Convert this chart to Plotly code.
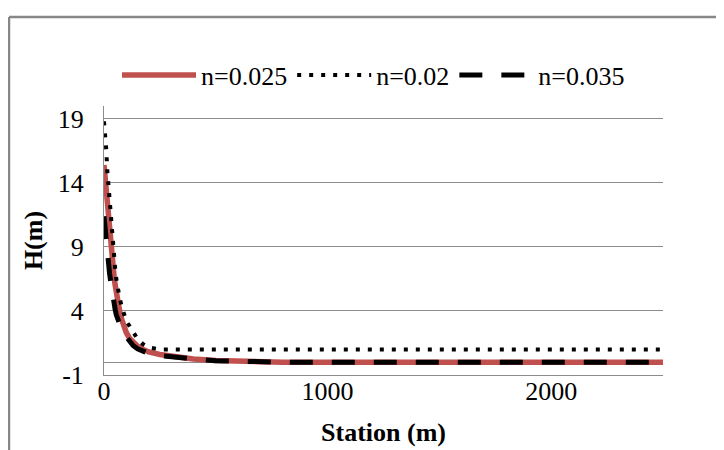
import plotly.graph_objects as go

# ---- data ----
stations = [0, 5, 10, 15, 20, 25, 30, 35, 40, 45, 50, 55, 60, 70, 80, 90, 100,
            115, 130, 150, 175, 200, 250, 300, 400, 500, 600, 700, 800, 1000,
            1500, 2000, 2500]

h_n0025 = [15.4, 14.3, 13.2, 12.1, 11.1, 10.1, 9.0, 8.2, 7.5, 6.7, 6.0, 5.3, 4.8,
           4.0, 3.3, 2.7, 2.3, 1.85, 1.55, 1.25, 1.0, 0.8, 0.6, 0.45, 0.25, 0.13,
           0.06, 0.02, 0.0, 0.0, 0.0, 0.0, 0.0]

h_n002 = [18.8, 17.9, 16.6, 14.9, 13.7, 12.5, 11.2, 10.0, 9.1, 8.2, 7.3, 6.5, 5.9,
          5.0, 4.3, 3.7, 3.2, 2.8, 2.3, 1.8, 1.4, 1.15, 1.0, 1.0, 1.0, 1.0,
          1.0, 1.0, 1.0, 1.0, 1.0, 1.0, 1.0]

h_n0035 = [11.4, 10.3, 9.3, 8.4, 7.6, 6.9, 6.3, 5.6, 5.0, 4.5, 4.1, 3.7, 3.4,
           2.9, 2.5, 2.2, 1.95, 1.6, 1.3, 1.05, 0.82, 0.68, 0.52, 0.4, 0.25, 0.12,
           0.05, 0.0, 0.0, 0.0, 0.0, 0.0, 0.0]

series_names = ["n=0.025", "n=0.02", "n=0.035"]
y_ticks = [-1, 4, 9, 14, 19]
y_tick_text = ["-1", "4", "9", "14", "19"]
x_ticks = [0, 1000, 2000]

FONT = "Liberation Serif, Times New Roman, serif"
GRID = "#8c8c8c"

fig = go.Figure()
fig.add_trace(go.Scatter(x=stations, y=h_n0025, mode="lines", name=series_names[0],
                         line=dict(color="#C0504D", width=5.5)))
fig.add_trace(go.Scatter(x=stations, y=h_n002, mode="lines", name=series_names[1],
                         line=dict(color="black", width=4, dash="4px,8px")))
fig.add_trace(go.Scatter(x=stations, y=h_n0035, mode="lines", name=series_names[2],
                         line=dict(color="black", width=5, dash="23px,19px")))

# page has an 8px body margin; figure coordinates = page coordinates - 8
W, H = 716, 442
L, T = 96, 98
R = W - 655
B = H - 367
pw, ph = W - L - R, H - T - B


def px(xp):
    return (xp - L) / pw


def py(yp):
    return (H - B - yp) / ph


fig.update_layout(
    width=W, height=H,
    margin=dict(l=L, r=R, t=T, b=B),
    paper_bgcolor="white", plot_bgcolor="white",
    font=dict(family=FONT, size=26, color="black"),
    showlegend=True,
    legend=dict(orientation="h", x=px(109), xanchor="left", y=py(67), yanchor="middle",
                font=dict(family=FONT, size=26, color="black"),
                itemwidth=74, tracegroupgap=0, bgcolor="rgba(0,0,0,0)",
                itemclick=False),
    xaxis=dict(range=[0, 2500], tickvals=x_ticks, ticks="", showgrid=False,
               showline=True, linecolor=GRID, linewidth=1, zeroline=False,
               tickfont=dict(family=FONT, size=26), ticklabelstandoff=-7,
               automargin=False,
               title=dict(text="<b>Station (m)</b>", font=dict(family=FONT, size=26),
                          standoff=17)),
    yaxis=dict(range=[-1, 20], tickvals=y_ticks, ticktext=y_tick_text, ticks="",
               showgrid=True, gridcolor=GRID, gridwidth=1, showline=True,
               linecolor=GRID, linewidth=1, zeroline=True, zerolinecolor=GRID,
               zerolinewidth=1, tickfont=dict(family=FONT, size=26),
               ticklabelstandoff=14, automargin=False,
               title=dict(text="<b>H(m)</b>", font=dict(family=FONT, size=26),
                          standoff=7)),
    shapes=[
        dict(type="line", xref="paper", yref="paper", x0=px(1), x1=px(740),
             y0=py(9), y1=py(9), line=dict(color="#878787", width=2.5)),
        dict(type="line", xref="paper", yref="paper", x0=px(1), x1=px(1),
             y0=py(9), y1=py(470), line=dict(color="#878787", width=2.5)),
    ],
)

fig.write_html("out.html")
